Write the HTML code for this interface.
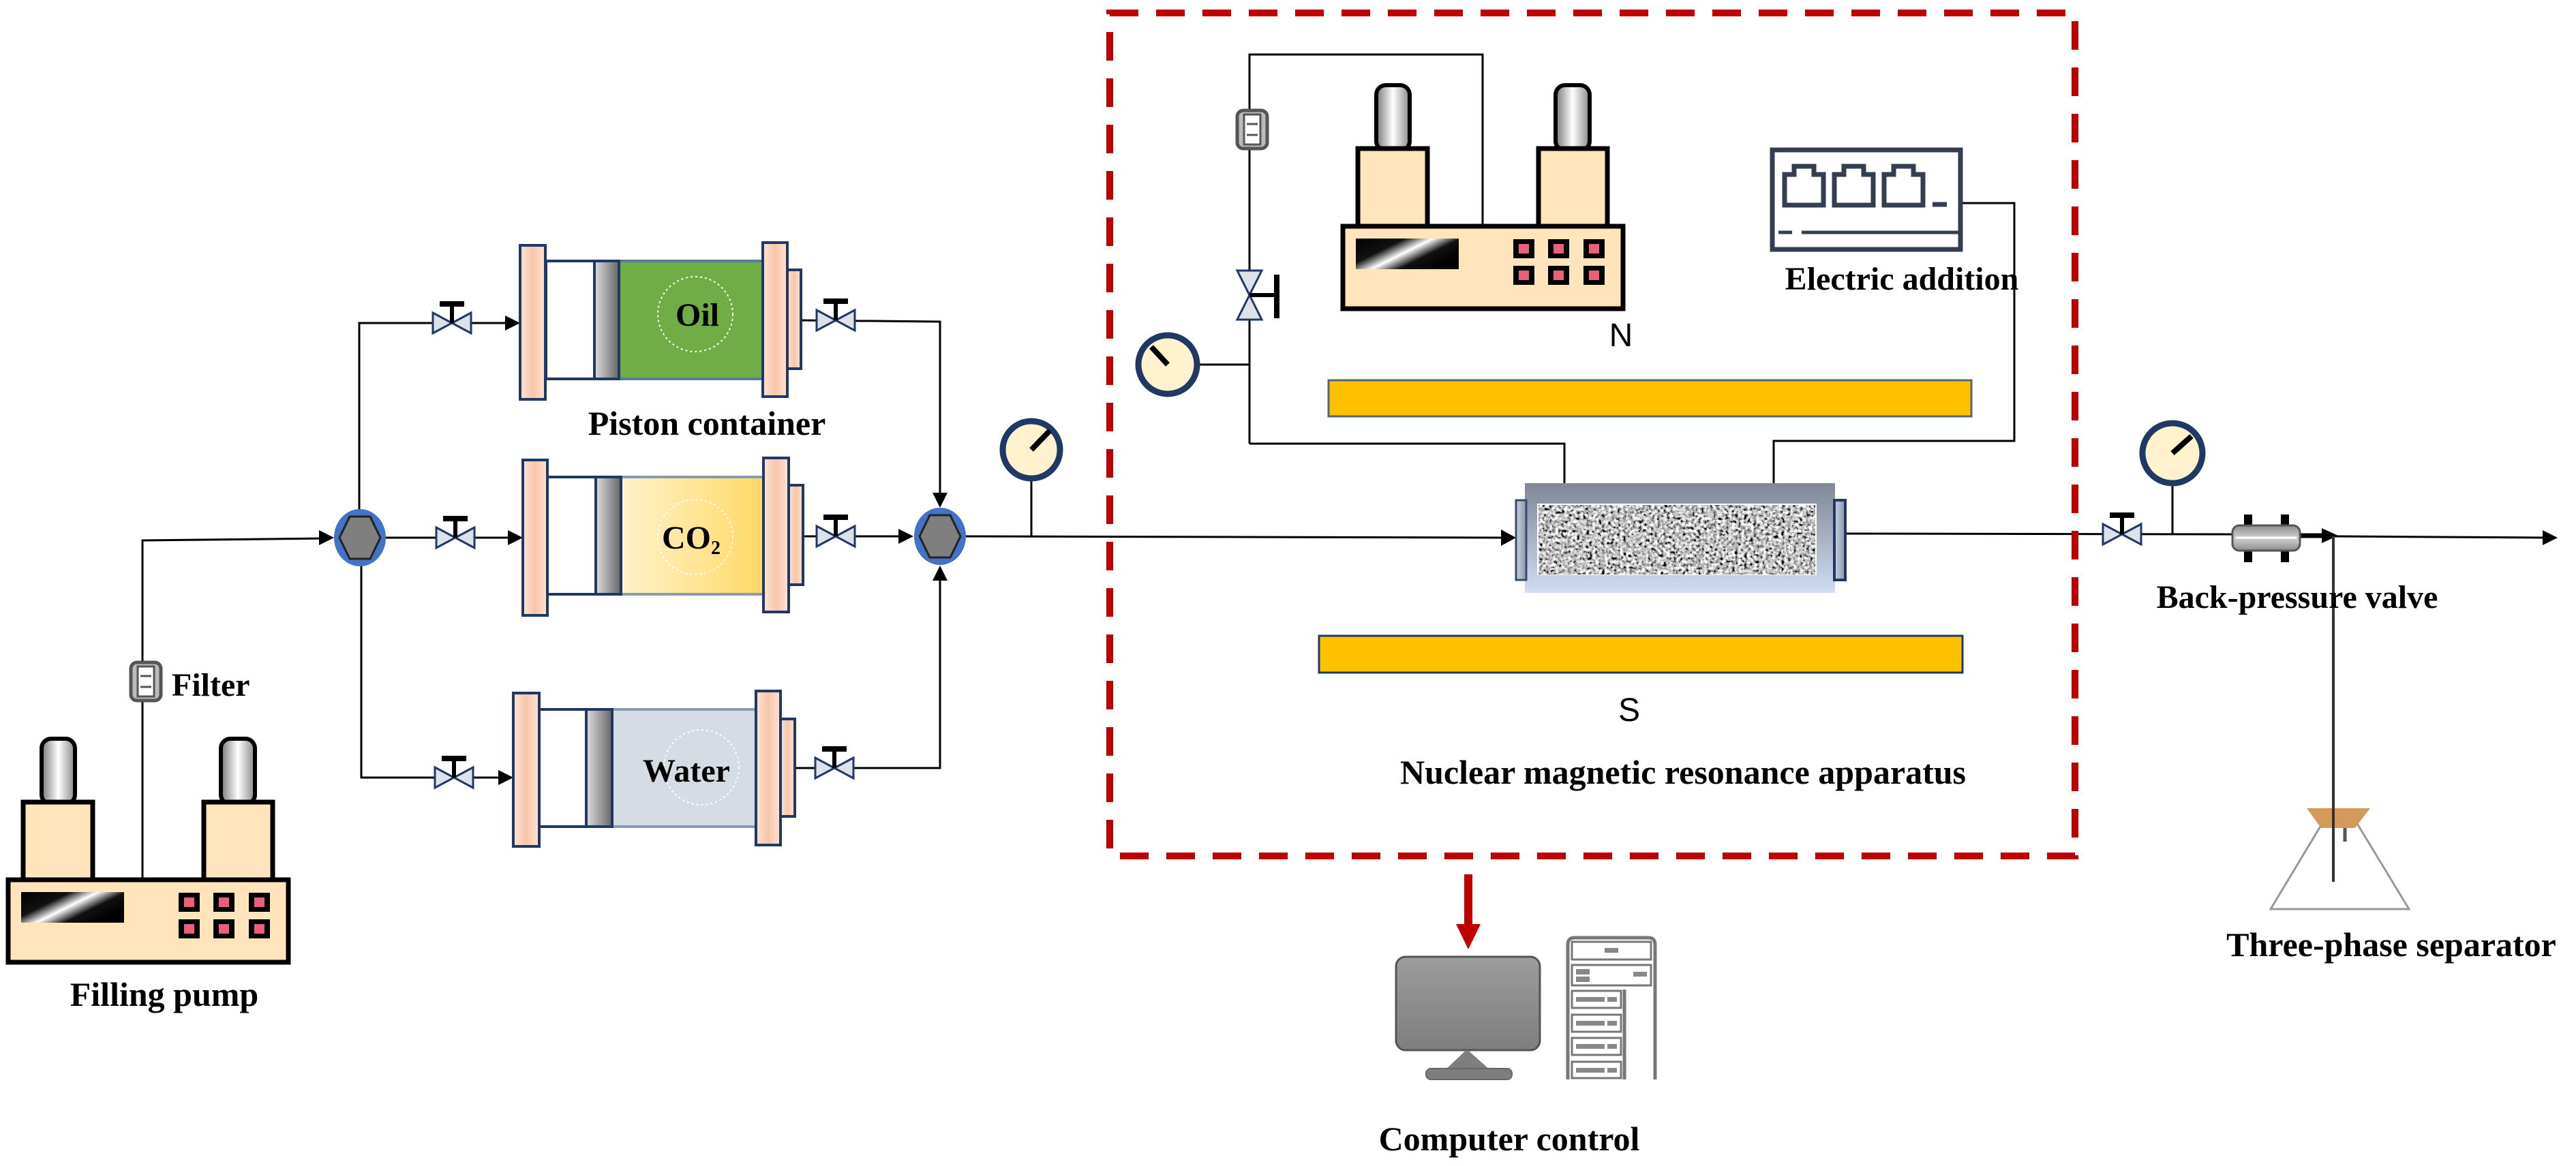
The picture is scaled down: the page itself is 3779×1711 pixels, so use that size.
<!DOCTYPE html>
<html><head><meta charset="utf-8"><style>
html,body{margin:0;padding:0;background:#fff;}
svg{display:block}
text{font-family:"Liberation Serif",serif;font-weight:bold;fill:#000}
</style></head><body>
<svg width="3779" height="1711" viewBox="0 0 3779 1711" xmlns="http://www.w3.org/2000/svg">
<defs>
<linearGradient id="cyl" x1="0" x2="1" y1="0" y2="0"><stop offset="0" stop-color="#777"/><stop offset="0.5" stop-color="#fff"/><stop offset="1" stop-color="#888"/></linearGradient>
<linearGradient id="scr" x1="0" x2="1" y1="0" y2="0.6"><stop offset="0" stop-color="#000"/><stop offset="0.35" stop-color="#111"/><stop offset="0.55" stop-color="#fff"/><stop offset="0.75" stop-color="#111"/><stop offset="1" stop-color="#000"/></linearGradient>
<linearGradient id="fl" x1="0" x2="1"><stop offset="0" stop-color="#fde3d6"/><stop offset="0.5" stop-color="#f8c6a8"/><stop offset="1" stop-color="#fde3d6"/></linearGradient>
<linearGradient id="pis" x1="0" x2="1"><stop offset="0" stop-color="#ddd"/><stop offset="1" stop-color="#666"/></linearGradient>
<linearGradient id="co2" x1="0" x2="1"><stop offset="0" stop-color="#fff2cc"/><stop offset="1" stop-color="#ffd966"/></linearGradient>
<linearGradient id="core" x1="0" x2="0" y1="0" y2="1"><stop offset="0" stop-color="#7f8796"/><stop offset="1" stop-color="#d0ddf2"/></linearGradient>
<linearGradient id="cap" x1="0" x2="1"><stop offset="0" stop-color="#c8d2e2"/><stop offset="1" stop-color="#8a96ab"/></linearGradient>
<linearGradient id="mon" x1="0" x2="0" y1="0" y2="1"><stop offset="0" stop-color="#9c9c9c"/><stop offset="1" stop-color="#7e7e7e"/></linearGradient>
<linearGradient id="bpv" x1="0" x2="0" y1="0" y2="1"><stop offset="0" stop-color="#8c8c8c"/><stop offset="0.5" stop-color="#d0d0d0"/><stop offset="1" stop-color="#8c8c8c"/></linearGradient>
<filter id="noise" x="0" y="0" width="100%" height="100%"><feTurbulence type="fractalNoise" baseFrequency="0.22" numOctaves="2" seed="3"/><feColorMatrix type="matrix" values="0.33 0.33 0.33 0 0  0.33 0.33 0.33 0 0  0.33 0.33 0.33 0 0  0 0 0 0 1"/><feComponentTransfer><feFuncR type="linear" slope="4" intercept="-1.45"/><feFuncG type="linear" slope="4" intercept="-1.45"/><feFuncB type="linear" slope="4" intercept="-1.45"/></feComponentTransfer></filter>
<g id="pump">
<rect x="49" y="-207" width="49" height="96" rx="14" fill="url(#cyl)" stroke="#000" stroke-width="6"/>
<rect x="312" y="-207" width="50" height="96" rx="14" fill="url(#cyl)" stroke="#000" stroke-width="6"/>
<rect x="22" y="-114" width="102" height="114" fill="#ffe4bc" stroke="#000" stroke-width="7"/>
<rect x="287" y="-114" width="101" height="114" fill="#ffe4bc" stroke="#000" stroke-width="7"/>
<rect x="0" y="0" width="411" height="121" fill="#ffe4bc" stroke="#000" stroke-width="7"/>
<rect x="19" y="18" width="151" height="45" fill="url(#scr)"/>
<g fill="#000"><rect x="250" y="19" width="31" height="28"/><rect x="301" y="19" width="31" height="28"/><rect x="353" y="19" width="31" height="28"/><rect x="250" y="58" width="31" height="28"/><rect x="301" y="58" width="31" height="28"/><rect x="353" y="58" width="31" height="28"/></g>
<g fill="#e8607c"><rect x="258" y="26" width="15" height="14"/><rect x="309" y="26" width="15" height="14"/><rect x="361" y="26" width="15" height="14"/><rect x="258" y="65" width="15" height="14"/><rect x="309" y="65" width="15" height="14"/><rect x="361" y="65" width="15" height="14"/></g>
</g>
<g id="valve">
<path d="M-28,-15 L0,0 L-28,15 Z M28,-15 L0,0 L28,15 Z" fill="#dde1e8" stroke="#1f3864" stroke-width="3"/>
<line x1="0" y1="0" x2="0" y2="-28" stroke="#000" stroke-width="6"/>
<line x1="-18" y1="-28" x2="18" y2="-28" stroke="#000" stroke-width="8"/>
</g>
<g id="hex">
<ellipse cx="0" cy="0" rx="38" ry="42" fill="#4472c4"/>
<polygon points="-30,0 -15,-31 15,-31 30,0 15,31 -15,31" fill="#7f7f7f" stroke="#222" stroke-width="3"/>
</g>
<g id="filter">
<rect x="-22" y="-28" width="44" height="56" rx="9" fill="#bbb" stroke="#555" stroke-width="5"/>
<rect x="-12" y="-22" width="24" height="44" fill="#fff" stroke="#555" stroke-width="3"/>
<line x1="-8" y1="-8" x2="8" y2="-8" stroke="#555" stroke-width="3"/><line x1="-8" y1="8" x2="8" y2="8" stroke="#555" stroke-width="3"/>
</g>
</defs>

<g stroke="#000" stroke-width="3" fill="none">
<polyline points="209,1291 209,793 478,790"/>
<path d="M468,778 L490,789 L468,800 Z" fill="#000" stroke="none"/>
<polyline points="527,750 527,474 748,474"/>
<path d="M741,463 L763,474 L741,485 Z" fill="#000" stroke="none"/>
<line x1="566" y1="789" x2="752" y2="789"/>
<path d="M745,778 L767,789 L745,800 Z" fill="#000" stroke="none"/>
<polyline points="530,830 530,1141 738,1141"/>
<path d="M731,1130 L753,1141 L731,1152 Z" fill="#000" stroke="none"/>
<polyline points="1175,470 1379,472 1379,725"/>
<path d="M1368,723 L1379,745 L1390,723 Z" fill="#000" stroke="none"/>
<line x1="1178" y1="787" x2="1322" y2="787"/>
<path d="M1318,776 L1340,787 L1318,798 Z" fill="#000" stroke="none"/>
<polyline points="1166,1127 1379,1127 1379,850"/>
<path d="M1368,852 L1379,830 L1390,852 Z" fill="#000" stroke="none"/>
<line x1="1417" y1="787" x2="2210" y2="789"/>
<path d="M2202,777 L2224,789 L2202,801 Z" fill="#000" stroke="none"/>
<line x1="1513" y1="704" x2="1513" y2="787"/>
<polyline points="1833,651 1833,80 2175,80 2175,332"/>
<polyline points="1833,651 2295,651 2295,710"/>
<line x1="1757" y1="535" x2="1833" y2="535"/>
<polyline points="2876,298 2955,298 2955,647 2602,647 2602,710"/>
<line x1="2707" y1="783" x2="3275" y2="784"/>
<line x1="3187" y1="710" x2="3187" y2="784"/>
<line x1="3374" y1="786" x2="3410" y2="786" stroke-width="7"/>
<line x1="3425" y1="787" x2="3738" y2="789"/>
<path d="M3730,778 L3752,789 L3730,800 Z" fill="#000" stroke="none"/>
<path d="M3406,775 L3430,786 L3406,797 Z" fill="#000" stroke="none"/>
<line x1="3423" y1="787" x2="3423" y2="1294" stroke="#333" stroke-width="4"/>
</g>

<use href="#pump" x="12" y="1291"/>
<use href="#pump" x="1970" y="332"/>
<use href="#filter" x="214" y="1000"/>
<text x="252" y="1021" font-size="48">Filter</text>
<text x="241" y="1476" font-size="50" text-anchor="middle">Filling pump</text>

<use href="#hex" x="528" y="789"/>
<use href="#hex" x="1379" y="787"/>

<use href="#valve" x="663" y="474"/>
<use href="#valve" x="668" y="789"/>
<use href="#valve" x="666" y="1141"/>
<use href="#valve" x="1226" y="470"/>
<use href="#valve" x="1226" y="787"/>
<use href="#valve" x="1224" y="1127"/>
<use href="#valve" x="3113" y="784"/>

<g stroke="#1f3864" stroke-width="4">
<rect x="801" y="383" width="318" height="173" fill="#fff"/>
<rect x="908" y="383" width="211" height="173" fill="#70ad47" stroke="#5a7a9a"/>
<rect x="872" y="383" width="36" height="173" fill="url(#pis)"/>
<rect x="763" y="360" width="37" height="226" fill="url(#fl)"/>
<rect x="1119" y="356" width="36" height="226" fill="url(#fl)"/>
<rect x="1155" y="396" width="20" height="145" fill="url(#fl)"/>

<rect x="803" y="700" width="317" height="172" fill="#fff"/>
<rect x="911" y="700" width="209" height="172" fill="url(#co2)" stroke="#8a9ab0"/>
<rect x="874" y="700" width="37" height="172" fill="url(#pis)"/>
<rect x="767" y="675" width="36" height="228" fill="url(#fl)"/>
<rect x="1120" y="672" width="37" height="226" fill="url(#fl)"/>
<rect x="1157" y="712" width="21" height="146" fill="url(#fl)"/>

<rect x="791" y="1041" width="318" height="172" fill="#fff"/>
<rect x="898" y="1041" width="211" height="172" fill="#d6dce4" stroke="#8a9ab0"/>
<rect x="860" y="1041" width="38" height="172" fill="url(#pis)"/>
<rect x="753" y="1017" width="38" height="225" fill="url(#fl)"/>
<rect x="1109" y="1014" width="36" height="226" fill="url(#fl)"/>
<rect x="1145" y="1055" width="21" height="143" fill="url(#fl)"/>
</g>
<g fill="none" stroke="#fff" stroke-width="2" stroke-dasharray="3 4">
<ellipse cx="1020" cy="461" rx="55" ry="55"/>
<ellipse cx="1020" cy="788" rx="55" ry="55"/>
<ellipse cx="1029" cy="1126" rx="55" ry="55"/>
</g>
<text x="1023" y="478" font-size="48" text-anchor="middle">Oil</text>
<text x="1014" y="805" font-size="48" text-anchor="middle">CO<tspan font-size="28" dy="8">2</tspan></text>
<text x="1007" y="1147" font-size="48" text-anchor="middle">Water</text>
<text x="1037" y="638" font-size="50" text-anchor="middle">Piston container</text>

<g stroke="#1f3864" stroke-width="9" fill="#fff2cc">
<circle cx="1513" cy="660" r="42"/>
<circle cx="1713" cy="535" r="43"/>
<circle cx="3187" cy="665" r="44"/>
</g>
<g stroke="#000" stroke-width="8">
<line x1="1513" y1="660" x2="1540" y2="632"/>
<line x1="1713" y1="535" x2="1689" y2="509"/>
<line x1="3187" y1="665" x2="3215" y2="640"/>
</g>

<rect x="1628" y="19" width="1416" height="1237" fill="none" stroke="#c00000" stroke-width="10" stroke-dasharray="42 26"/>
<use href="#filter" x="1837" y="190"/>
<g transform="translate(1833,433) rotate(90)">
<path d="M-36,-18 L0,0 L-36,18 Z M36,-18 L0,0 L36,18 Z" fill="#dde1e8" stroke="#1f3864" stroke-width="3"/>
</g>
<line x1="1833" y1="433" x2="1873" y2="433" stroke="#000" stroke-width="6"/>
<line x1="1873" y1="403" x2="1873" y2="467" stroke="#000" stroke-width="8"/>
<text x="2378" y="508" font-size="48" text-anchor="middle" style="font-family:'Liberation Sans',sans-serif;font-weight:normal">N</text>

<rect x="2600" y="220" width="276" height="146" fill="#fff" stroke="#333f50" stroke-width="7"/>
<g fill="none" stroke="#333f50" stroke-width="7">
<path d="M2618,301 L2618,256 L2632,256 L2632,244 L2661,244 L2661,256 L2675,256 L2675,301 Z"/>
<path d="M2691,301 L2691,256 L2705,256 L2705,244 L2734,244 L2734,256 L2748,256 L2748,301 Z"/>
<path d="M2764,301 L2764,256 L2778,256 L2778,244 L2807,244 L2807,256 L2821,256 L2821,301 Z"/>
<line x1="2835" y1="300" x2="2856" y2="300"/>
<line x1="2609" y1="341" x2="2629" y2="341" stroke-width="5"/>
<line x1="2643" y1="341" x2="2873" y2="341" stroke-width="5"/>
</g>
<text x="2790" y="425" font-size="48" text-anchor="middle">Electric addition</text>

<rect x="1949" y="558" width="943" height="53" fill="#ffc000" stroke="#5a6478" stroke-width="3"/>
<rect x="1935" y="933" width="944" height="54" fill="#ffc000" stroke="#1f3864" stroke-width="3"/>

<rect x="2237" y="709" width="455" height="161" fill="url(#core)"/>
<rect x="2224" y="734" width="15" height="117" fill="url(#cap)" stroke="#3a4a6a" stroke-width="3"/>
<rect x="2691" y="734" width="16" height="117" fill="url(#cap)" stroke="#1f3864" stroke-width="4"/>
<rect x="2255" y="739" width="410" height="105" fill="#fff"/>
<rect x="2257" y="741" width="406" height="102" filter="url(#noise)"/>
<text x="2390" y="1058" font-size="48" text-anchor="middle" style="font-family:'Liberation Sans',sans-serif;font-weight:normal">S</text>
<text x="2469" y="1150" font-size="50" text-anchor="middle">Nuclear magnetic resonance apparatus</text>

<g fill="#000"><rect x="3292" y="755" width="12" height="70"/><rect x="3346" y="755" width="12" height="70"/></g>
<rect x="3275" y="771" width="99" height="37" rx="10" fill="url(#bpv)" stroke="#555" stroke-width="3"/>
<line x1="3280" y1="789" x2="3369" y2="789" stroke="#fff" stroke-width="3"/>
<text x="3370" y="892" font-size="48" text-anchor="middle">Back-pressure valve</text>

<path d="M3405,1211 L3331,1334 L3534,1334 L3457,1207" fill="none" stroke="#999" stroke-width="3"/>
<polygon points="3384,1186 3477,1186 3455,1215 3405,1215" fill="#d49a5c"/>
<line x1="3440" y1="1215" x2="3440" y2="1235" stroke="#555" stroke-width="5"/>
<line x1="3423" y1="1186" x2="3423" y2="1294" stroke="#333" stroke-width="4"/>
<text x="3508" y="1403" font-size="50" text-anchor="middle">Three-phase separator</text>

<rect x="2148" y="1283" width="12" height="76" fill="#c00000"/>
<polygon points="2136,1356 2172,1356 2154,1393" fill="#c00000"/>
<rect x="2048" y="1404" width="211" height="137" rx="14" fill="url(#mon)" stroke="#555" stroke-width="3"/>
<polygon points="2152,1540 2120,1570 2186,1570" fill="#7e7e7e"/>
<rect x="2092" y="1568" width="126" height="16" rx="7" fill="#7e7e7e" stroke="#666" stroke-width="2"/>
<g fill="none" stroke="#777" stroke-width="5">
<path d="M2300,1584 L2300,1386 Q2300,1376 2310,1376 L2418,1376 Q2428,1376 2428,1386 L2428,1584"/>
<rect x="2306" y="1382" width="116" height="26" fill="#fff" stroke-width="3"/>
<rect x="2306" y="1416" width="116" height="30" fill="#fff" stroke-width="3"/>
<line x1="2383" y1="1452" x2="2383" y2="1584"/>
<rect x="2306" y="1454" width="72" height="25" fill="#fff" stroke-width="3"/>
<rect x="2306" y="1489" width="72" height="25" fill="#fff" stroke-width="3"/>
<rect x="2306" y="1523" width="72" height="25" fill="#fff" stroke-width="3"/>
<rect x="2306" y="1558" width="72" height="24" fill="#fff" stroke-width="3"/>
</g>
<g fill="#888">
<rect x="2354" y="1391" width="20" height="7"/><rect x="2312" y="1422" width="20" height="8"/><rect x="2312" y="1433" width="20" height="8"/><rect x="2396" y="1426" width="20" height="7"/>
<rect x="2312" y="1463" width="42" height="7"/><rect x="2358" y="1463" width="14" height="7"/>
<rect x="2312" y="1498" width="42" height="7"/><rect x="2358" y="1498" width="14" height="7"/>
<rect x="2312" y="1532" width="42" height="7"/><rect x="2358" y="1532" width="14" height="7"/>
<rect x="2312" y="1567" width="42" height="7"/><rect x="2358" y="1567" width="14" height="7"/>
</g>
<text x="2214" y="1688" font-size="50" text-anchor="middle">Computer control</text>
</svg>
</body></html>
